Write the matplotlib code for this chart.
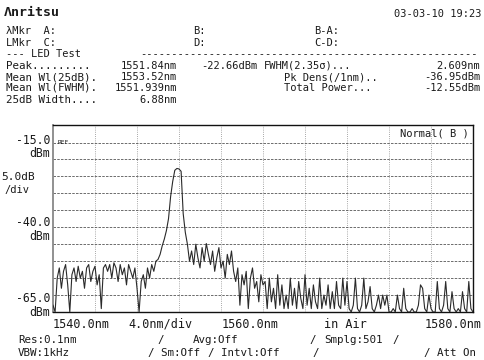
import numpy as np
import matplotlib
matplotlib.use("Agg")
import matplotlib.pyplot as plt

# OSA trace (0.2 nm steps, 1540..1580 nm)
wl_start, wl_stop = 1540.0, 1580.0
pw_a = [-63, -65, -55, -52, -58, -53, -51, -57, -65, -54, -52, -56, -51.5, -55, -53, -58,
        -52, -51, -56, -53, -51.5, -57, -54, -64, -52, -51]
pw_b = [-53, -51, -55, -50.5, -52, -56, -51, -54, -52, -57, -51, -53, -55, -52, -58]
pw_c = [-65, -56, -54, -58, -52, -55, -51, -53, -50, -49.5]
pw_d = [-48, -45.5, -43.5, -41, -37.5, -31, -26.5, -23.2, -22.66, -22.8, -23.5, -36,
        -41.5, -45, -50]
pw_e = [-47, -51, -45, -49, -52, -46, -50, -44.8, -48, -51, -47, -53, -49, -46, -52,
        -50, -55, -48, -51, -47]
pw_f = [-53, -56, -52, -63, -54, -57, -53, -64, -55, -52, -58, -56, -62, -54, -57]
pw_g = [-56, -64, -55, -62, -58, -64, -54, -63, -57, -64, -60, -64, -55, -63, -58, -64,
        -56, -61, -64, -54, -63, -58, -64, -57, -62, -64, -55, -64, -60, -63, -57, -64,
        -59, -64, -56, -63, -64, -55, -63, -56]
pw_h = [-64, -65, -63, -55, -64, -65, -63, -55, -64, -62, -57.5, -64, -65, -63, -60, -64,
        -60, -63, -60, -65, -65, -64, -65, -60, -64, -65, -58, -64, -65, -65, -64, -65,
        -65, -63, -57, -58, -64, -65, -60, -64, -65, -65, -56, -64, -65, -63, -56, -64,
        -65, -59, -64, -65, -64, -65, -59, -64, -65, -56, -64, -65]
power = pw_a + pw_b + pw_c + pw_d + pw_e + pw_f + pw_g + pw_h
wl = np.linspace(wl_start, wl_stop, len(power))

ref_level = -15.0
bottom_level = -65.0
x_grid = [1544, 1548, 1552, 1556, 1560, 1564, 1568, 1572, 1576]
y_grid = [-60, -55, -50, -45, -40, -35, -30, -25, -20, -15]

W, H = 484, 360
fig = plt.figure(figsize=(W / 100, H / 100), dpi=100)
fig.patch.set_facecolor("white")

def px(x, y):
    return x / W, 1 - y / H

mono = "DejaVu Sans Mono"
ink = "#1a1a1a"

def txt(x, y, s, size=7.5, ha="left", **kw):
    fx, fy = px(x, y)
    fig.text(fx, fy, s, fontsize=size, family=mono, ha=ha, va="center", color=ink, **kw)

# plot area
l, r, t, b = 53, 473, 125, 312
ax = fig.add_axes([l / W, 1 - b / H, (r - l) / W, (b - t) / H])
top_level = ref_level + (142.5 - t) / ((b - 142.5) / (ref_level - bottom_level))
ax.set_xlim(wl_start, wl_stop)
ax.set_ylim(bottom_level, top_level)
for xg in x_grid:
    ax.axvline(xg, color="#8a8a8a", lw=0.6, ls=(0, (1, 1.6)), zorder=1)
for yg in y_grid:
    ax.axhline(yg, color="#555555", lw=0.6, ls=(0, (3, 1.5)), zorder=1)
ax.plot(wl, power, color="#2a2a2a", lw=0.8, zorder=3)
ax.set_xticks([])
ax.set_yticks([])
for side in ["top", "right", "bottom"]:
    ax.spines[side].set_color("#111111")
    ax.spines[side].set_linewidth(1.0)
ax.spines["left"].set_color("#888888")
ax.spines["left"].set_linewidth(1.3)
ax.text(0.01, ref_level, "REF", fontsize=4.5, family=mono, color=ink,
        transform=ax.get_yaxis_transform(), va="center")
ax.text(0.99, 0.955, "Normal( B )", fontsize=7.5, family=mono, color=ink,
        transform=ax.transAxes, ha="right", va="center")

# header
txt(4, 13, "Λnritsu", size=9.5, weight="bold")
txt(481, 14, "03-03-10 19:23", size=7.5, ha="right")
txt(6, 31, "λMkr  A:")
txt(193, 31, "B:")
txt(314, 31, "B-A:")
txt(6, 43, "LMkr  C:")
txt(193, 43, "D:")
txt(314, 43, "C-D:")
txt(6, 54, "--- LED Test")
txt(140, 54, "-" * 54)
txt(6, 66, "Peak.........", size=7.8)
txt(177, 66, "1551.84nm", ha="right")
txt(257, 66, "-22.66dBm", ha="right")
txt(264, 66, "FWHM(2.35σ)...")
txt(480, 66, "2.609nm", ha="right")
txt(6, 77, "Mean Wl(25dB).", size=7.8)
txt(177, 77, "1553.52nm", ha="right")
txt(284, 77, "Pk Dens(/1nm)..")
txt(480, 77, "-36.95dBm", ha="right")
txt(6, 88, "Mean Wl(FWHM).", size=7.8)
txt(177, 88, "1551.939nm", ha="right")
txt(284, 88, "Total Power...")
txt(480, 88, "-12.55dBm", ha="right")
txt(6, 100, "25dB Width....", size=7.8)
txt(177, 100, "6.88nm", ha="right")

# y axis labels
txt(50, 141, "-15.0", size=8.3, ha="right")
txt(50, 153, "dBm", size=8.3, ha="right")
txt(1, 177, "5.0dB", size=8)
txt(4, 190, "/div", size=7.5)
txt(50, 223, "-40.0", size=8.3, ha="right")
txt(50, 237, "dBm", size=8.3, ha="right")
txt(50, 299, "-65.0", size=8.3, ha="right")
txt(50, 312, "dBm", size=8.3, ha="right")

# x axis labels
txt(53, 324, "1540.0nm", size=8.5)
txt(128, 324, "4.0nm/div", size=8.5)
txt(222, 324, "1560.0nm", size=8.5)
txt(324, 324, "in Air", size=8.5)
txt(482, 324, "1580.0nm", size=8.5, ha="right")

# settings rows
txt(18, 340, "Res:0.1nm", size=7.8)
txt(157, 340, "/", size=7.8)
txt(193, 340, "Avg:Off", size=7.8)
txt(309, 340, "/", size=7.8)
txt(324, 340, "Smplg:501", size=7.8)
txt(392, 340, "/", size=7.8)
txt(18, 353, "VBW:1kHz", size=7.8)
txt(148, 353, "/ Sm:Off", size=7.8)
txt(208, 353, "/ Intvl:Off", size=7.8)
txt(312, 353, "/", size=7.8)
txt(424, 353, "/ Att On", size=7.8)

fig.savefig("out.png", dpi=100, facecolor="white")
